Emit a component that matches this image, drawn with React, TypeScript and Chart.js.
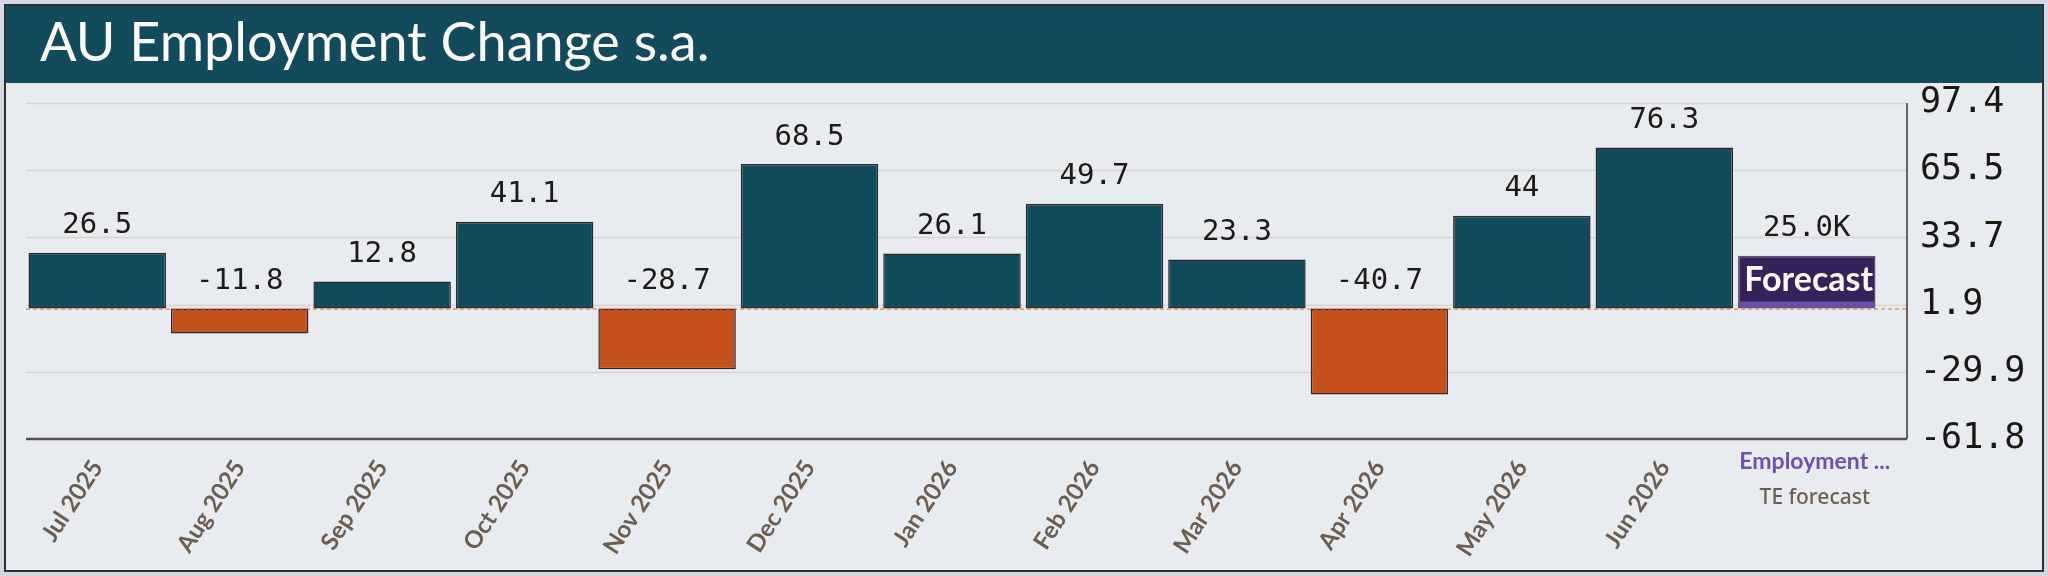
import { useEffect, useRef } from "react"
import { Chart, registerables } from "chart.js"

// Register Chart.js components
Chart.register(...registerables)

const title = "AU Employment Change s.a."

const categories = [
  "Jul 2025",
  "Aug 2025",
  "Sep 2025",
  "Oct 2025",
  "Nov 2025",
  "Dec 2025",
  "Jan 2026",
  "Feb 2026",
  "Mar 2026",
  "Apr 2026",
  "May 2026",
  "Jun 2026",
  "Employment ...",
]

const values = [26.5, -11.8, 12.8, 41.1, -28.7, 68.5, 26.1, 49.7, 23.3, -40.7, 44, 76.3, 25.0]
const valueLabels = ["26.5", "-11.8", "12.8", "41.1", "-28.7", "68.5", "26.1", "49.7", "23.3", "-40.7", "44", "76.3", "25.0K"]
const yTicks = [-61.8, -29.9, 1.9, 33.7, 65.5, 97.4]

const forecastIndex = 12
const forecastTag = "Forecast"
const forecastSub = "TE forecast"

const TEAL = "#124b5b"
const ORANGE = "#c4511c"
const PURPLE = "#35225a"

const CANVAS_W = 2048
const CANVAS_H = 493
const FRAME_RIGHT = 1907

const overlayPlugin = {
  id: "overlay",
  beforeDatasetsDraw(chart: Chart) {
    const { ctx, chartArea } = chart
    const y = chart.scales.y
    ctx.save()
    // gridlines
    ctx.strokeStyle = "#d9d4cc"
    ctx.lineWidth = 1.5
    yTicks.forEach((t, i) => {
      if (i === 0) return
      const py = Math.round(y.getPixelForValue(t)) + 0.5
      ctx.beginPath()
      ctx.moveTo(chartArea.left, py)
      ctx.lineTo(FRAME_RIGHT, py)
      ctx.stroke()
    })
    // frame
    const top = y.getPixelForValue(yTicks[yTicks.length - 1])
    const bottom = y.getPixelForValue(yTicks[0])
    ctx.strokeStyle = "#3d3731"
    ctx.lineWidth = 1.5
    ctx.beginPath()
    ctx.moveTo(FRAME_RIGHT, top)
    ctx.lineTo(FRAME_RIGHT, bottom)
    ctx.stroke()
    ctx.strokeStyle = "#57504a"
    ctx.lineWidth = 2.5
    ctx.beginPath()
    ctx.moveTo(chartArea.left, bottom)
    ctx.lineTo(FRAME_RIGHT, bottom)
    ctx.stroke()
    ctx.restore()
  },
  afterDatasetsDraw(chart: Chart) {
    const { ctx, chartArea } = chart
    const y = chart.scales.y
    const meta = chart.getDatasetMeta(0)
    const zero = y.getPixelForValue(0)
    ctx.save()

    // dashed zero line
    ctx.strokeStyle = "#e0652c"
    ctx.lineWidth = 1
    ctx.setLineDash([4, 3])
    ctx.beginPath()
    ctx.moveTo(chartArea.left, zero + 0.5)
    ctx.lineTo(FRAME_RIGHT, zero + 0.5)
    ctx.stroke()
    ctx.setLineDash([])

    // forecast bar decoration
    const fb: any = meta.data[forecastIndex]
    if (fb) {
      const w = fb.width
      ctx.fillStyle = "#6b4fa6"
      ctx.fillRect(fb.x - w / 2 + 1, zero - 7, w - 2, 6)
      ctx.fillStyle = "#fffaf2"
      ctx.font = "bold 34px Lato"
      ctx.textAlign = "center"
      ctx.textBaseline = "middle"
      ctx.fillText(forecastTag, fb.x + 2, (fb.y + zero - 7) / 2 + 1)

      // last category label, drawn flat
      ctx.fillStyle = "#6d50b0"
      ctx.font = "bold 23px Lato"
      ctx.fillText(categories[forecastIndex], fb.x + 8, 379)
      ctx.fillStyle = "#6b6055"
      ctx.font = "500 21px 'Noto Sans'"
      ctx.fillText(forecastSub, fb.x + 8, 415)
    }

    // value labels
    ctx.fillStyle = "#1e1a16"
    ctx.font = "29px 'DejaVu Sans Mono'"
    ctx.textAlign = "center"
    ctx.textBaseline = "middle"
    meta.data.forEach((bar: any, i: number) => {
      const topY = Math.min(bar.y, bar.base)
      ctx.fillText(valueLabels[i], bar.x, topY - 27)
    })
    ctx.restore()
  },
}

function EmploymentChart() {
  const chartRef = useRef<HTMLCanvasElement>(null)
  const chartInstance = useRef<Chart | null>(null)

  useEffect(() => {
    document.body.style.margin = "0"
    if (!chartRef.current) return
    if (chartInstance.current) chartInstance.current.destroy()

    const ctx = chartRef.current.getContext("2d")
    if (!ctx) return

    chartInstance.current = new Chart(ctx, {
      type: "bar",
      data: {
        labels: categories,
        datasets: [
          {
            data: values,
            backgroundColor: values.map((v, i) => (i === forecastIndex ? PURPLE : v < 0 ? ORANGE : TEAL)),
            borderColor: values.map((_, i) => (i === forecastIndex ? "#5a5670" : "#2a2a2a")),
            borderWidth: 1.5,
            borderSkipped: false,
            categoryPercentage: 1,
            barPercentage: 0.965,
          },
        ],
      },
      options: {
        responsive: false,
        animation: false,
        devicePixelRatio: 1,
        layout: { padding: { left: 26, top: 20, right: 0, bottom: 0 } },
        plugins: {
          legend: { display: false },
          tooltip: { enabled: false },
        },
        scales: {
          x: {
            grid: { display: false, drawTicks: false },
            border: { display: false },
            afterFit: (scale: any) => {
              scale.height = 137
              scale.paddingLeft = 0
              scale.paddingRight = 0
            },
            ticks: {
              autoSkip: false,
              minRotation: 57,
              maxRotation: 57,
              padding: 16,
              color: "#6b5e51",
              font: { family: "Lato", size: 24, weight: "bold" },
              callback: (_v: any, i: number) => (i === forecastIndex ? "" : categories[i]),
            },
          },
          y: {
            position: "right",
            min: yTicks[0],
            max: yTicks[yTicks.length - 1],
            grid: { display: false, drawTicks: false },
            border: { display: false },
            afterFit: (scale: any) => {
              scale.width = 170
              scale.paddingTop = 0
              scale.paddingBottom = 0
            },
            afterBuildTicks: (scale: any) => {
              scale.ticks = yTicks.map((v) => ({ value: v }))
            },
            ticks: {
              padding: 42,
              color: "#1b1814",
              font: { family: "'DejaVu Sans Mono'", size: 35 },
              callback: (v: any) => Number(v).toFixed(1),
            },
          },
        },
      },
      plugins: [overlayPlugin],
    })

    return () => {
      if (chartInstance.current) {
        chartInstance.current.destroy()
        chartInstance.current = null
      }
    }
  }, [])

  return <canvas ref={chartRef} width={CANVAS_W} height={CANVAS_H} style={{ position: "absolute", left: 0, top: 83 }} />
}

export default function App() {
  return (
    <div style={{ position: "relative", width: 2048, height: 576, background: "#d3d9e2", overflow: "hidden" }}>
      <div
        style={{
          position: "absolute",
          left: 4,
          top: 4,
          width: 2040,
          height: 568,
          boxSizing: "border-box",
          border: "2px solid #2e2e2e",
          background: "#e8ebf0",
        }}
      >
        <div style={{ height: 77, background: TEAL, position: "relative" }}>
          <div
            style={{
              position: "absolute",
              left: 34,
              top: 3,
              fontFamily: "Lato",
              fontSize: 54,
              lineHeight: "64px",
              color: "#fdfaf5",
              whiteSpace: "nowrap",
            }}
          >
            {title}
          </div>
        </div>
      </div>
      <EmploymentChart />
    </div>
  )
}
